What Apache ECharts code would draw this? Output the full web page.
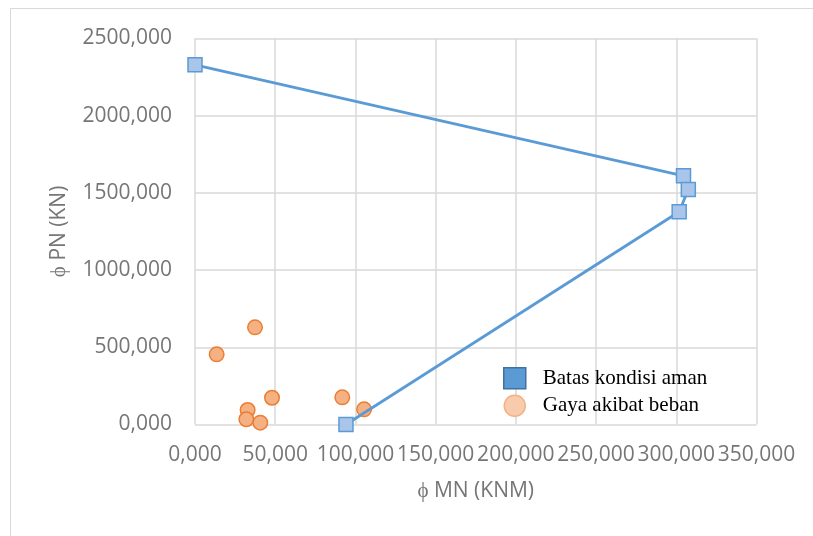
<!DOCTYPE html>
<html>
<head>
<meta charset="utf-8">
<script src="https://cdn.jsdelivr.net/npm/echarts@6/dist/echarts.min.js"></script>
<style>html,body{margin:0;padding:0;background:#fff}#c{width:813px;height:536px}</style>
</head>
<body>
<div id="c"></div>
<script>
var limitMn = [0, 304.5, 307.5, 301.8, 94.1];
var limitPn = [2328, 1610, 1522, 1377, 0];
var loadMn = [13.5, 37.4, 48.0, 32.8, 32.0, 40.7, 91.8, 105.4];
var loadPn = [454, 629, 173, 94, 34, 12, 176, 98];
var seriesNames = ['Batas kondisi aman', 'Gaya akibat beban'];
var xTitle = '\u03d5 MN (KNM)';
var yTitle = '\u03d5 PN (KN)';

function pairs(xs, ys){ return xs.map(function(x,i){ return [x, ys[i]]; }); }
function fmt(v){ return v.toFixed(3).replace('.', ','); }

var chart = echarts.init(document.getElementById('c'), null, {renderer:'canvas'});
var labelFont = {color:'#767676', fontFamily:'Open Sans', fontSize:21};
chart.setOption({
  animation:false,
  backgroundColor:'#fff',
  graphic:[{type:'rect', shape:{x:10.5, y:8.5, width:830, height:560}, style:{fill:'none', stroke:'#d9d9d9', lineWidth:1}, z:-1}],
  grid:{left:195, right:56.5, top:38.3, bottom:111.5},
  xAxis:{type:'value', min:0, max:350, interval:50,
    axisLine:{show:false}, axisTick:{show:false},
    splitLine:{show:true, lineStyle:{color:'#d9d9d9', width:1.5}},
    axisLabel:Object.assign({margin:20, formatter:fmt}, labelFont),
    name:xTitle, nameLocation:'middle', nameGap:56,
    nameTextStyle:{color:'#767676', fontFamily:'Open Sans', fontSize:21}},
  yAxis:{type:'value', min:0, max:2500, interval:500,
    axisLine:{show:false}, axisTick:{show:false},
    splitLine:{show:true, lineStyle:{color:'#d9d9d9', width:1.5}},
    axisLabel:Object.assign({margin:23, formatter:fmt}, labelFont),
    name:yTitle, nameLocation:'middle', nameGap:125, nameRotate:90,
    nameTextStyle:{color:'#767676', fontFamily:'Open Sans', fontSize:21}},
  legend:{orient:'vertical', left:498, top:362, itemWidth:22, itemHeight:21, itemGap:5,
    textStyle:{fontFamily:'Liberation Serif', fontSize:21, color:'#000', padding:[0,0,0,12]},
    data:[
      {name:seriesNames[0], icon:'rect', itemStyle:{color:'#5b9bd5', borderColor:'#41719c', borderWidth:1.5}},
      {name:seriesNames[1], icon:'circle', itemStyle:{color:'#f8cbad', borderColor:'#f4b183', borderWidth:1.5}}
    ]},
  series:[
    {name:seriesNames[0], type:'line', data:pairs(limitMn, limitPn),
      symbol:'rect', symbolSize:14,
      lineStyle:{color:'#5b9bd5', width:2.8},
      itemStyle:{color:'#a9c5ea', borderColor:'#5b9bd5', borderWidth:1.5}, z:3},
    {name:seriesNames[1], type:'scatter', data:pairs(loadMn, loadPn),
      symbol:'circle', symbolSize:14.5,
      itemStyle:{color:'#f4b183', borderColor:'#ed7d31', borderWidth:1.5, opacity:1}, z:2}
  ]
});
</script>
</body>
</html>
